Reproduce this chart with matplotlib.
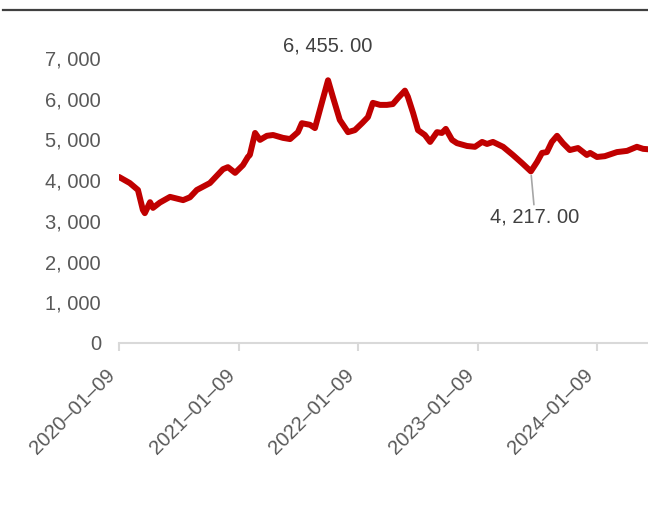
import matplotlib
matplotlib.use("Agg")
import matplotlib.pyplot as plt
from matplotlib.lines import Line2D
from matplotlib.ticker import FuncFormatter, MultipleLocator
import numpy as np
import pandas as pd

dates = [
    "2020-01-09", "2020-02-11", "2020-03-07", "2020-03-22", "2020-03-28",
    "2020-04-13", "2020-04-22", "2020-05-13", "2020-06-13", "2020-07-23",
    "2020-08-13", "2020-09-03", "2020-10-13", "2020-11-22", "2020-12-07",
    "2020-12-29", "2021-01-22", "2021-02-06", "2021-02-12", "2021-02-28",
    "2021-03-15", "2021-04-05", "2021-04-24", "2021-05-24", "2021-06-15",
    "2021-07-09", "2021-07-21", "2021-08-15", "2021-08-30", "2021-09-20",
    "2021-10-09", "2021-10-24", "2021-11-14", "2021-12-09", "2021-12-30",
    "2022-01-21", "2022-02-08", "2022-02-23", "2022-03-17", "2022-04-07",
    "2022-04-25", "2022-05-11", "2022-06-01", "2022-06-10", "2022-06-26",
    "2022-07-11", "2022-08-01", "2022-08-17", "2022-09-07", "2022-09-22",
    "2022-10-04", "2022-10-23", "2022-11-07", "2022-12-08", "2023-01-01",
    "2023-01-23", "2023-02-07", "2023-02-25", "2023-03-28", "2023-04-27",
    "2023-05-25", "2023-06-21", "2023-07-10", "2023-07-25", "2023-08-09",
    "2023-08-24", "2023-09-09", "2023-09-27", "2023-10-18", "2023-11-12",
    "2023-12-09", "2023-12-19", "2024-01-09", "2024-02-02", "2024-03-10",
    "2024-04-10", "2024-05-10", "2024-05-29", "2024-06-13",
]
values = [
    4080, 3930, 3760, 3270, 3190,
    3460, 3320, 3450, 3590, 3510,
    3580, 3760, 3930, 4270, 4320,
    4180, 4370, 4570, 4620, 5160,
    4990, 5090, 5110, 5040, 5010,
    5180, 5400, 5360, 5280, 5900,
    6455, 6040, 5480, 5180, 5230,
    5400, 5550, 5900, 5850, 5850,
    5870, 6020, 6200, 6050, 5650,
    5230, 5110, 4940, 5180, 5160,
    5260, 4990, 4910, 4840, 4820,
    4940, 4890, 4940, 4820, 4620,
    4420, 4217, 4450, 4670, 4690,
    4940, 5090, 4910, 4740, 4790,
    4620, 4670, 4570, 4590, 4690,
    4720, 4820, 4770, 4760,
]
tick_dates = ["2020-01-09", "2021-01-09", "2022-01-09", "2023-01-09", "2024-01-09"]
high_label = "6, 455. 00"
low_label = "4, 217. 00"

x = pd.to_datetime(dates)
y = np.array(values)

plt.rcParams["font.family"] = ["Liberation Sans", "DejaVu Sans"]

fig = plt.figure(figsize=(6.48, 5.05), dpi=100)
ax = fig.add_axes([0.1836, 0.3208, 1.0 - 0.1836, 0.885 - 0.3208])

ax.plot(x, y, color="#C00000", lw=4.3, solid_joinstyle="round", solid_capstyle="round")

ax.set_ylim(0, 7000)
ax.set_xlim(pd.Timestamp("2020-01-09"), pd.Timestamp("2024-06-13"))
ax.yaxis.set_major_locator(MultipleLocator(1000))
ax.yaxis.set_major_formatter(FuncFormatter(lambda v, p: f"{v:,.0f}".replace(",", ", ")))

ticks = pd.to_datetime(tick_dates)
ax.set_xticks(ticks)
ax.set_xticklabels([t.strftime("%Y-%m-%d").replace("-", "\u2013") for t in ticks],
                   rotation=45, ha="right")

for s in ["top", "right", "left"]:
    ax.spines[s].set_visible(False)
ax.spines["bottom"].set_color("#d9d9d9")
ax.spines["bottom"].set_linewidth(1.5)
ax.tick_params(axis="y", length=0, pad=13, labelsize=14.5, labelcolor="#595959")
ax.tick_params(axis="x", length=6, width=1.5, color="#d9d9d9", pad=10,
               labelsize=14.5, labelcolor="#595959")

# high / low value labels
imax = values.index(6455)
imin = values.index(4217)
ax.annotate(high_label, xy=(x[imax], y[imax]), xytext=(0, 18), textcoords="offset points",
            ha="center", va="bottom", fontsize=14.5, color="#404040")
ax.annotate(low_label, xy=(x[imin], y[imin]), xytext=(3, -26), textcoords="offset points",
            ha="center", va="top", fontsize=14.5, color="#404040",
            arrowprops=dict(arrowstyle="-", color="#a6a6a6", lw=1.2, shrinkA=0, shrinkB=3))

fig.add_artist(Line2D([0.005, 1.0], [0.98, 0.98], transform=fig.transFigure,
                      color="#404040", lw=1.6))

fig.savefig("out.png", dpi=100)
